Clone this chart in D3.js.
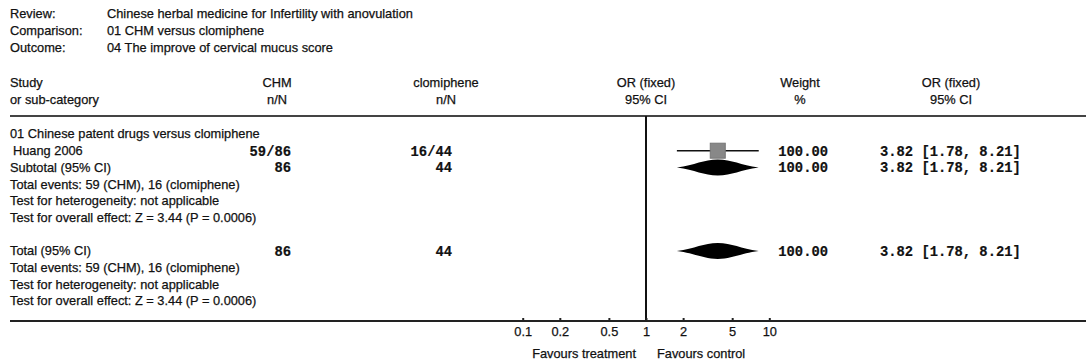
<!DOCTYPE html>
<html lang="en">
<head>
<meta charset="utf-8">
<title>CHM versus clomiphene - cervical mucus score</title>
<script src="https://cdn.jsdelivr.net/npm/d3@7"></script>
<style>
  body { margin: 0; background: #fff; }
  svg text { font-family: "Liberation Sans", Arial, sans-serif; font-size: 12.8px; fill: #111; stroke: #111; stroke-width: 0.25px; }
  svg text.mono { font-family: "Liberation Mono", "Courier New", monospace; font-weight: bold; font-size: 13.8px; stroke-width: 0.2px; }
</style>
</head>
<body>
<svg id="chart" width="1089" height="364"></svg>
<script>
// header info
var headLabels = ["Review:", "Comparison:", "Outcome:"];
var headValues = ["Chinese herbal medicine for Infertility with anovulation",
                  "01 CHM versus clomiphene",
                  "04 The improve of cervical mucus score"];

// study data
var groupName = "01 Chinese patent drugs versus clomiphene";
var studyNames = ["Huang 2006"];
var chmEvents = [59], chmTotal = [86];
var cloEvents = [16], cloTotal = [44];
var orVals = [3.82], ciLow = [1.78], ciHigh = [8.21];
var weights = [100.00];

// pooled (subtotal / total)
var pooled = {n1: 86, n2: 44, or: 3.82, lo: 1.78, hi: 8.21, weight: 100.00};
var statLines = ["Total events: 59 (CHM), 16 (clomiphene)",
                 "Test for heterogeneity: not applicable",
                 "Test for overall effect: Z = 3.44 (P = 0.0006)"];

var axisTicks = [0.1, 0.2, 0.5, 1, 2, 5, 10];

var svg = d3.select("#chart");

var x = d3.scaleLog().domain([0.1, 10]).range([522.7, 769.3]);
// rows in the body of the table
var row = d3.scaleLinear().domain([0, 10]).range([134, 301]);
var headRow = d3.scaleLinear().domain([0, 2]).range([14, 48]);

var colChm = 291, colClo = 452, colW = 828, colCI = 880, left = 10;
var fmt = d3.format(".2f");

// review / comparison / outcome
headLabels.forEach(function(t, i) {
  svg.append("text").attr("x", left).attr("y", headRow(i)).attr("dy", "0.35em").text(t);
  svg.append("text").attr("x", 107).attr("y", headRow(i)).attr("dy", "0.35em").text(headValues[i]);
});

// column headers
var colHead = [
  {x: left, a: "start", t: ["Study", "or sub-category"]},
  {x: 277, a: "middle", t: ["CHM", "n/N"]},
  {x: 446, a: "middle", t: ["clomiphene", "n/N"]},
  {x: x(1), a: "middle", t: ["OR (fixed)", "95% CI"]},
  {x: 800, a: "middle", t: ["Weight", "%"]},
  {x: 951, a: "middle", t: ["OR (fixed)", "95% CI"]}
];
colHead.forEach(function(c) {
  c.t.forEach(function(t, i) {
    svg.append("text").attr("x", c.x).attr("y", 83 + i * 17).attr("dy", "0.35em")
      .attr("text-anchor", c.a).text(t);
  });
});

// rules
svg.append("line").attr("x1", left).attr("x2", 1086).attr("y1", 116).attr("y2", 116)
  .attr("stroke", "#444").attr("stroke-width", 2);
svg.append("line").attr("x1", x(1)).attr("x2", x(1)).attr("y1", 116).attr("y2", 321)
  .attr("stroke", "#111").attr("stroke-width", 2);

function txt(xp, r, t, anchor, mono) {
  return svg.append("text").attr("x", xp).attr("y", row(r)).attr("dy", "0.35em")
    .attr("text-anchor", anchor || "start").attr("class", mono ? "mono" : null).text(t);
}

// pooled estimate: fat diamond with tapered tips
function diamond(r, d) {
  var y = row(r), h = 8;
  var a = x(d.lo), m = x(d.or), b = x(d.hi);
  var p = d3.path();
  p.moveTo(a, y);
  p.bezierCurveTo(a + (m - a) * 0.45, y - h * 0.3, m - (m - a) * 0.35, y - h, m, y - h);
  p.bezierCurveTo(m + (b - m) * 0.35, y - h, b - (b - m) * 0.45, y - h * 0.3, b, y);
  p.bezierCurveTo(b - (b - m) * 0.45, y + h * 0.3, m + (b - m) * 0.35, y + h, m, y + h);
  p.bezierCurveTo(m - (m - a) * 0.35, y + h, a + (m - a) * 0.45, y + h * 0.3, a, y);
  p.closePath();
  svg.append("path").attr("d", p.toString()).attr("fill", "#000");
  txt(colW, r, fmt(d.weight), "end", true);
  txt(colCI, r, fmt(d.or) + " [" + fmt(d.lo) + ", " + fmt(d.hi) + "]", "start", true);
}

// group block
txt(left, 0, groupName);
studyNames.forEach(function(s, i) {
  var r = 1 + i, y = row(r);
  txt(left + 3, r, s);
  txt(colChm, r, chmEvents[i] + "/" + chmTotal[i], "end", true);
  txt(colClo, r, cloEvents[i] + "/" + cloTotal[i], "end", true);
  svg.append("line").attr("x1", x(ciLow[i])).attr("x2", x(ciHigh[i])).attr("y1", y).attr("y2", y)
    .attr("stroke", "#111").attr("stroke-width", 1.6);
  var sz = 15;
  svg.append("rect").attr("x", x(orVals[i]) - sz / 2).attr("y", y - sz / 2)
    .attr("width", sz).attr("height", sz).attr("fill", "#888").attr("stroke", "#777");
  txt(colW, r, fmt(weights[i]), "end", true);
  txt(colCI, r, fmt(orVals[i]) + " [" + fmt(ciLow[i]) + ", " + fmt(ciHigh[i]) + "]", "start", true);
});

var sub = 1 + studyNames.length;
txt(left, sub, "Subtotal (95% CI)");
txt(colChm, sub, pooled.n1, "end", true);
txt(colClo, sub, pooled.n2, "end", true);
diamond(sub, pooled);
statLines.forEach(function(t, i) { txt(left, sub + 1 + i, t); });

var tot = sub + 5;
txt(left, tot, "Total (95% CI)");
txt(colChm, tot, pooled.n1, "end", true);
txt(colClo, tot, pooled.n2, "end", true);
diamond(tot, pooled);
statLines.forEach(function(t, i) { txt(left, tot + 1 + i, t); });

// bottom axis
svg.append("line").attr("x1", left).attr("x2", 1086).attr("y1", 321).attr("y2", 321)
  .attr("stroke", "#222").attr("stroke-width", 2);
var ax = svg.append("g").attr("transform", "translate(0,321)")
  .call(d3.axisBottom(x).tickValues(axisTicks).tickFormat(d3.format("")).tickSize(-3).tickPadding(6));
ax.select(".domain").remove();
ax.selectAll(".tick line").attr("stroke", "#222").attr("stroke-width", 2).attr("y2", -3);
ax.selectAll(".tick text").attr("y", 11).attr("dy", "0.35em")
  .style("font-family", "\"Liberation Sans\", Arial, sans-serif").style("font-size", "12.8px")
  .attr("fill", "#111").attr("stroke", "#111").attr("stroke-width", 0.25);

svg.append("text").attr("x", x(1) - 10).attr("y", 354).attr("dy", "0.35em").attr("text-anchor", "end").text("Favours treatment");
svg.append("text").attr("x", x(1) + 11).attr("y", 354).attr("dy", "0.35em").text("Favours control");
</script>
</body>
</html>
